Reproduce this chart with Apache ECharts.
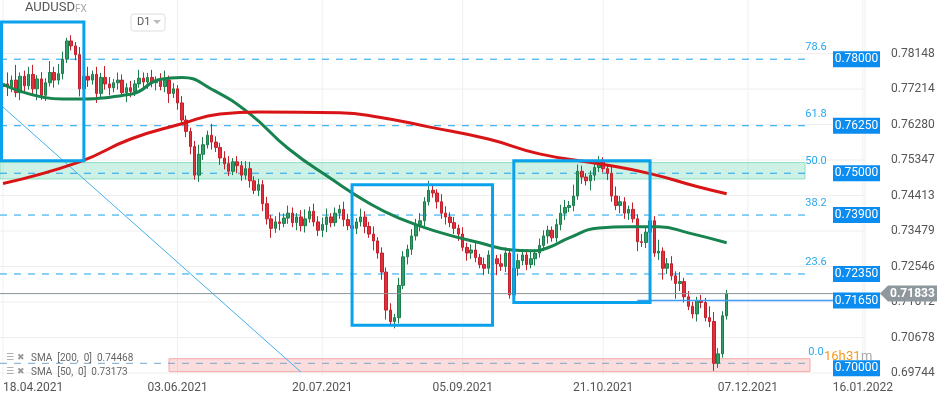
<!DOCTYPE html>
<html><head><meta charset="utf-8">
<script src="https://cdn.jsdelivr.net/npm/echarts@6/dist/echarts.min.js"></script>
<style>html,body{margin:0;padding:0;background:#fff}#c{width:950px;height:404px}</style>
</head><body><div id="c"></div>
<script>
const closes=[0.7735,0.7728,0.7745,0.7712,0.7755,
0.7730,0.7760,0.7722,0.7748,0.7705,0.7738,0.7765,0.7745,0.7762,
0.7800,0.7848,0.7835,0.7812,0.7722,
0.7755,0.7745,0.7760,0.7710,0.7752,0.7735,0.7725,0.7738,0.7745,0.7712,0.7725,0.7715,0.7735,0.7750,
0.7740,0.7752,0.7738,0.7745,0.7728,
0.7745,0.7710,0.7722,0.7685,0.7640,0.7610,0.7570,
0.7495,0.7550,
0.7575,0.7600,0.7582,0.7568,
0.7540,0.7525,0.7505,0.7530,0.7520,0.7495,0.7512,0.7480,0.7455,0.7470,
0.7420,0.7380,0.7355,0.7372,0.7368,0.7382,0.7395,0.7370,0.7385,0.7362,
0.7380,0.7400,0.7372,0.7350,0.7365,0.7385,0.7370,0.7395,0.7405,0.7378,0.7362,
0.7355,0.7372,0.7385,0.7360,0.7340,0.7322,0.7290,
0.7240,0.7140,0.7110,
0.7120,0.7205,0.7280,0.7300,0.7335,0.7365,0.7375,0.7425,0.7455,
0.7448,0.7425,0.7395,0.7385,0.7370,0.7355,0.7340,0.7305,0.7290,
0.7298,0.7278,0.7260,0.7250,0.7285,0.7275,0.7262,0.7255,0.7290,0.7180,
0.7250,0.7270,0.7285,0.7260,0.7275,0.7290,0.7310,
0.7335,0.7350,0.7330,0.7365,0.7395,0.7410,0.7415,
0.7440,0.7505,0.7490,0.7480,0.7495,0.7515,0.7530,0.7512,
0.7500,0.7440,0.7415,0.7425,0.7395,0.7405,
0.7380,0.7320,0.7318,0.7345,
0.7375,0.7290,0.7295,0.7250,0.7262,0.7230,0.7210,0.7215,0.7175,0.7150,
0.7130,0.7165,0.7160,0.7120,0.7110,
0.7000,0.7025,0.7125,0.7183];
const firstOpen=0.7728;
const wickHi=[8,30,12,40,10,15,20,25,10,18,12,30,15,25,20,8,15,10,20,15,25,10,20,12,30,18,10,20,15,12,18,10,22,
15,12,20,10,18,25,12,15,10,18,12,10,15,25,20,12,30,15,12,18,20,10,15,12,20,18,12,15,
12,18,10,15,25,12,20,15,10,18,25,12,20,15,18,22,10,15,12,20,15,18,10,22,15,12,20,
10,15,12,18,10,20,15,12,18,15,20,12,25,15,10,20,18,12,15,10,18,12,15,20,10,18,12,15,
10,25,15,12,10,18,12,15,20,10,18,15,12,10,15,22,20,12,30,18,15,10,12,20,15,12,10,18,
25,15,12,10,18,12,20,15,25,12,30,10,15,20,12,25,10,15,12,10,15,12,
30,25,15,12,10,15,12,10,8,10];
const wickLo=[10,25,15,12,20,15,10,18,30,12,15,10,20,12,15,10,12,15,20,10,18,12,25,10,15,20,12,18,10,25,15,12,10,
15,18,12,20,10,15,25,12,18,10,15,20,12,18,15,10,20,12,18,15,12,10,20,15,12,18,10,15,
20,15,25,12,18,10,15,12,20,15,18,10,12,15,18,20,12,10,15,18,12,20,15,12,18,10,25,
15,20,25,12,18,15,10,20,15,12,18,15,10,12,18,15,20,12,15,18,10,20,15,12,10,18,15,12,
30,12,15,10,18,20,12,15,10,18,12,15,20,10,12,15,18,12,15,10,18,12,25,15,12,10,18,15,
12,20,15,18,10,25,12,15,20,10,18,30,15,12,40,20,15,10,12,20,15,10,
15,20,12,10,10,12,10,8,10,10];
const sma50Pts=[[0,0.7734],[14,0.7695],[30,0.7708],[37,0.7747],[42,0.7752],[49,0.7721],[58,0.7656],[67,0.7565],[77,0.7486],[86,0.7421],[93,0.7382],[103,0.7343],[112,0.7317],[119,0.7299],[124,0.7296],[128,0.7304],[133,0.7330],[140,0.7356],[147,0.7359],[154,0.7359],[161,0.7343],[170,0.7317]];
const sma200Pts=[[0,0.7473],[18,0.7530],[30,0.7590],[42,0.7630],[51,0.7656],[60,0.7661],[79,0.7659],[88,0.7648],[100,0.7622],[114,0.7590],[126,0.7551],[140,0.7525],[152,0.7499],[163,0.7465],[170,0.7446]];
const fibLevels=[0.7800,0.7625,0.7500,0.7390,0.7235,0.7000];
const fibNames=['78.6','61.8','50.0','38.2','23.6','0.0'];
const yTicks=[0.78148,0.77214,0.76280,0.75347,0.74413,0.73479,0.72546,0.71612,0.70678,0.69744];
const xTickIdx=[0,41,75,108,141,175,202];
const xTickLabels=['18.04.2021','03.06.2021','20.07.2021','05.09.2021','21.10.2021','07.12.2021','16.01.2022'];
const lastPrice=0.71833, supportLevel=0.71650;
const greenZone=[0.7485,0.7528], redZone=[0.6978,0.7012];
const boxes=[[-1,18.9,0.7898,0.7533],[82,115,0.7470,0.7100],[120,151.5,0.7533,0.7160]];
const diag=[[0,0.7674],[70,0.6977]];
const NSLOTS=203;

const cats=[];for(let i=0;i<NSLOTS;i++)cats.push(String(i));
const ohlc=[];let prev=firstOpen;
for(let i=0;i<closes.length;i++){const o=prev,c=closes[i];
 ohlc.push([o,c,Math.min(o,c)-wickLo[i]/10000,Math.max(o,c)+wickHi[i]/10000]);prev=c;}
const YMIN=0.69666,YMAX=0.79557;
const chart=echarts.init(document.getElementById('c'));
chart.setOption({animation:false,
 grid:{left:0,right:85,top:0,bottom:28},
 xAxis:{type:'category',data:cats,boundaryGap:true,axisLine:{show:false},axisTick:{show:false},
  axisLabel:{interval:(i)=>xTickIdx.includes(i),formatter:(v,i)=>xTickLabels[xTickIdx.indexOf(+v)]||'',color:'#555',fontSize:12,fontFamily:'Roboto',alignMinLabel:'left',margin:6},
  splitLine:{show:false}},
 yAxis:{type:'value',position:'right',min:YMIN,max:YMAX,axisLine:{show:false},axisTick:{show:false},splitLine:{show:false},
  axisLabel:{customValues:yTicks,formatter:v=>v.toFixed(5),color:'#555',fontSize:12,fontFamily:'Roboto',margin:26}},
 series:[
  {type:'candlestick',data:ohlc,barWidth:3,itemStyle:{color:'#2e9e66',color0:'#e0303c',borderColor:'#1d7d4d',borderColor0:'#c4202c'}},
  {type:'line',data:sma50Pts,smooth:true,showSymbol:false,lineStyle:{color:'#17834f',width:3},z:3},
  {type:'line',data:sma200Pts,smooth:true,showSymbol:false,lineStyle:{color:'#d81416',width:3},z:3},
  {type:'line',data:diag,showSymbol:false,lineStyle:{color:'#42b0ee',width:1},z:2}
 ]});
function P(x,y){return chart.convertToPixel({gridIndex:0},[x,y]);}
const g=[];
const W=865, fibEnd=808;
yTicks.forEach(v=>{const y=P(0,v)[1];g.push({type:'line',shape:{x1:0,y1:y,x2:W,y2:y},style:{stroke:'#eeeeee',lineWidth:1},z:-10});});
xTickIdx.forEach(i=>{const x=P(i,YMAX)[0];g.push({type:'line',shape:{x1:x,y1:0,x2:x,y2:376},style:{stroke:'#f0f0f0',lineWidth:1},z:-10});});
g.push({type:'line',shape:{x1:W,y1:0,x2:W,y2:376},style:{stroke:'#eeeeee'},z:-10});
let a=P(0,greenZone[1]),b=P(0,greenZone[0]);
g.push({type:'rect',shape:{x:0,y:a[1],width:805,height:b[1]-a[1]},style:{fill:'rgba(60,200,150,0.25)',stroke:'#8fe0c0',lineWidth:1},z:-5});
a=P(38.5,redZone[1]);b=P(38.5,redZone[0]);
g.push({type:'rect',shape:{x:a[0],y:a[1],width:810-a[0],height:b[1]-a[1]},style:{fill:'rgba(245,120,120,0.25)',stroke:'#f4a8a8',lineWidth:1},z:-5});
fibLevels.forEach((v,k)=>{const y=P(0,v)[1];
 g.push({type:'line',shape:{x1:0,y1:y,x2:fibEnd,y2:y},style:{stroke:k==5?'#7aa6c8':'#1aa3ea',lineWidth:1,lineDash:[7,7]},z:-4});
 g.push({type:'text',style:{x:fibEnd+8,y:y-6,text:fibNames[k],fill:'#29a8ec',font:'11px Roboto',align:'center',verticalAlign:'bottom'},z:20});
 const ty=k==5?y+5:y;
 g.push({type:'rect',shape:{x:833,y:ty-8,width:47,height:16},style:{fill:'#0a8cf0'},z:20});
 g.push({type:'text',style:{x:856.5,y:ty,text:v.toFixed(5),fill:'#fff',font:'12px Roboto',align:'center',verticalAlign:'middle'},z:21});
});
let yl=P(0,lastPrice)[1];
g.push({type:'line',shape:{x1:0,y1:yl,x2:885,y2:yl},style:{stroke:'#8a9499',lineWidth:1},z:5});
g.push({type:'polygon',shape:{points:[[880,yl],[888,yl-8],[937,yl-8],[937,yl+8],[888,yl+8]]},style:{fill:'#8e979b'},z:20});
g.push({type:'text',style:{x:890,y:yl,text:lastPrice.toFixed(5),fill:'#fff',font:'bold 12px Roboto',verticalAlign:'middle'},z:21});
let ys=P(0,supportLevel)[1];let xs=P(149,supportLevel)[0];
g.push({type:'line',shape:{x1:xs,y1:ys,x2:833,y2:ys},style:{stroke:'#3d9df5',lineWidth:1.5},z:5});
g.push({type:'rect',shape:{x:833,y:ys-8,width:47,height:16},style:{fill:'#0a8cf0'},z:20});
g.push({type:'text',style:{x:856.5,y:ys,text:supportLevel.toFixed(5),fill:'#fff',font:'12px Roboto',align:'center',verticalAlign:'middle'},z:21});
boxes.forEach(bx=>{const p1=P(bx[0],bx[2]),p2=P(bx[1],bx[3]);
 g.push({type:'rect',shape:{x:Math.max(p1[0],1.5),y:p1[1],width:p2[0]-Math.max(p1[0],1.5),height:p2[1]-p1[1]},style:{fill:'none',stroke:'#0aa2ec',lineWidth:3},z:10});});
g.push({type:'text',style:{x:25,y:14,text:'AUDUSD',fill:'#555',font:'13px Roboto',verticalAlign:'bottom'},z:30});
g.push({type:'text',style:{x:75,y:14,text:'FX',fill:'#aaa',font:'10px Roboto',verticalAlign:'bottom'},z:30});
g.push({type:'rect',shape:{x:131,y:14,width:34,height:17,r:3},style:{fill:'#fff',stroke:'#ddd'},z:30});
g.push({type:'text',style:{x:137,y:22.5,text:'D1',fill:'#555',font:'11px Roboto',verticalAlign:'middle'},z:31});
g.push({type:'polygon',shape:{points:[[153,20],[161,20],[157,24]]},style:{fill:'#bbb'},z:31});
g.push({type:'text',style:{x:31,y:358,text:'SMA  [200,  0]  0.74468',fill:'#666',font:'10px Roboto',verticalAlign:'middle'},z:30});
g.push({type:'text',style:{x:31,y:372,text:'SMA  [50,  0]  0.73173',fill:'#666',font:'10px Roboto',verticalAlign:'middle'},z:30});
[358,372].forEach(y=>{g.push({type:'text',style:{x:6,y:y,text:'☰ ✖',fill:'#999',font:'9px DejaVu Sans',verticalAlign:'middle'},z:30});});
g.push({type:'text',style:{x:824,y:357,text:'16h',fill:'#f39a1c',font:'13px Roboto',verticalAlign:'middle'},z:30});
g.push({type:'text',style:{x:846,y:357,text:'31',fill:'#f39a1c',font:'13px Roboto',verticalAlign:'middle'},z:30});
g.push({type:'text',style:{x:861,y:357,text:'m',fill:'#aaa',font:'13px Roboto',verticalAlign:'middle'},z:30});
chart.setOption({graphic:g});
</script></body></html>
